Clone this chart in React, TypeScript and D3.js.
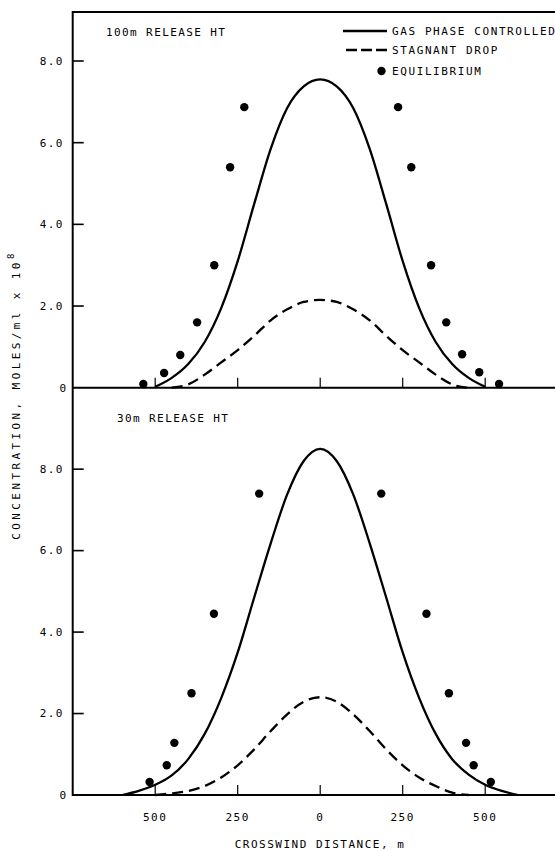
import React, { useRef, useEffect } from 'react';
import * as d3 from 'd3';

// crosswind distance (m) for the curve points
const distances = [-600, -550, -500, -450, -400, -350, -300, -250, -200, -150, -100, -50, 0,
  50, 100, 150, 200, 250, 300, 350, 400, 450, 500, 550, 600];

// 100m release height
const topGasPhase = [null, null, 0.02, 0.24, 0.58, 1.12, 1.95, 3.1, 4.5, 5.85, 6.85, 7.38, 7.55,
  7.38, 6.85, 5.85, 4.5, 3.1, 1.95, 1.12, 0.58, 0.24, 0.02, null, null];
const topStagnant = [null, null, null, 0, 0.08, 0.32, 0.62, 0.92, 1.27, 1.65, 1.92, 2.1, 2.15,
  2.1, 1.92, 1.65, 1.27, 0.92, 0.62, 0.32, 0.08, 0, null, null, null];
const topEquilX = [-536, -473, -424, -373, -321, -273, -230, 236, 276, 336, 382, 430, 482, 542];
const topEquilY = [0.09, 0.36, 0.8, 1.6, 3.0, 5.4, 6.87, 6.87, 5.4, 3.0, 1.6, 0.82, 0.38, 0.09];

// 30m release height
const botGasPhase = [0, 0.1, 0.25, 0.48, 0.88, 1.5, 2.38, 3.5, 4.85, 6.18, 7.38, 8.2, 8.5,
  8.2, 7.38, 6.18, 4.85, 3.5, 2.38, 1.5, 0.88, 0.5, 0.25, 0.1, 0];
const botStagnant = [null, null, 0, 0.04, 0.1, 0.22, 0.43, 0.73, 1.12, 1.57, 1.98, 2.29, 2.4,
  2.29, 1.98, 1.57, 1.12, 0.73, 0.43, 0.22, 0.06, 0, null, null, null];
const botEquilX = [-517, -465, -442, -390, -322, -185, 185, 322, 390, 442, 465, 517];
const botEquilY = [0.32, 0.73, 1.28, 2.5, 4.45, 7.4, 7.4, 4.45, 2.5, 1.28, 0.73, 0.32];

const xTicks = [-500, -250, 0, 250, 500];
const yTicks = [2, 4, 6, 8];
const yTickLabels = ['2.0', '4.0', '6.0', '8.0'];
const legendLabels = ['GAS PHASE CONTROLLED', 'STAGNANT DROP', 'EQUILIBRIUM'];

function ReleaseChart() {
  const svgRef = useRef<SVGSVGElement>(null);

  useEffect(() => {
    const svg = d3.select(svgRef.current);
    svg.selectAll('*').remove();

    const font = "'DejaVu Sans Mono', monospace";
    const left = 72.7, right = 567.7, top = 12, mid = 387.7, bottom = 795;

    const x = d3.scaleLinear().domain([-750, 750]).range([left, right]);
    const yTop = d3.scaleLinear().domain([0, 9.2]).range([mid, top]);
    const yBot = d3.scaleLinear().domain([0, 10]).range([bottom, mid]);

    const panels = [
      { y: yTop, solid: topGasPhase, dashed: topStagnant, ex: topEquilX, ey: topEquilY,
        title: '100m RELEASE HT', tx: 106, ty: 36 },
      { y: yBot, solid: botGasPhase, dashed: botStagnant, ex: botEquilX, ey: botEquilY,
        title: '30m RELEASE HT', tx: 117, ty: 422 },
    ];

    // frame
    const frame = svg.append('g').attr('stroke', '#000').attr('stroke-width', 2);
    frame.append('line').attr('x1', left).attr('x2', left).attr('y1', top - 1).attr('y2', bottom + 1);
    [top, mid, bottom].forEach(yy => {
      frame.append('line').attr('x1', left).attr('x2', 555).attr('y1', yy).attr('y2', yy);
    });

    panels.forEach(p => {
      const g = svg.append('g');

      // y ticks + labels
      yTicks.forEach((t, i) => {
        g.append('line')
          .attr('x1', left).attr('x2', left + 11)
          .attr('y1', p.y(t)).attr('y2', p.y(t))
          .attr('stroke', '#000').attr('stroke-width', 1.6);
        g.append('text')
          .attr('x', 64).attr('y', p.y(t)).attr('dy', '0.35em')
          .attr('text-anchor', 'end')
          .attr('font-family', font).attr('font-size', 11).attr('letter-spacing', 1.5)
          .text(yTickLabels[i]);
      });
      g.append('text')
        .attr('x', 66).attr('y', p.y(0)).attr('dy', '0.35em')
        .attr('text-anchor', 'end')
        .attr('font-family', font).attr('font-size', 11)
        .text('0');

      // x ticks on the zero line
      xTicks.forEach(t => {
        g.append('line')
          .attr('x1', x(t)).attr('x2', x(t))
          .attr('y1', p.y(0)).attr('y2', p.y(0) - 10)
          .attr('stroke', '#000').attr('stroke-width', 1.2);
      });

      // title
      g.append('text')
        .attr('x', p.tx).attr('y', p.ty)
        .attr('font-family', font).attr('font-size', 11).attr('letter-spacing', 1.4)
        .text(p.title);

      const line = d3.line<number | null>()
        .defined(d => d != null)
        .x((_, i) => x(distances[i]))
        .y(d => p.y(d as number))
        .curve(d3.curveMonotoneX);

      g.append('path')
        .attr('d', line(p.solid))
        .attr('fill', 'none').attr('stroke', '#000').attr('stroke-width', 2.3);

      g.append('path')
        .attr('d', line(p.dashed))
        .attr('fill', 'none').attr('stroke', '#000').attr('stroke-width', 2.3)
        .attr('stroke-dasharray', '11,6');

      g.selectAll('.dot')
        .data(p.ex)
        .enter()
        .append('circle')
        .attr('cx', d => x(d))
        .attr('cy', (_, i) => p.y(p.ey[i]))
        .attr('r', 4.2)
        .attr('fill', '#000');
    });

    // legend
    const legend = svg.append('g').attr('font-family', font).attr('font-size', 11).attr('letter-spacing', 1.6);
    legend.append('line').attr('x1', 343).attr('x2', 387).attr('y1', 31).attr('y2', 31)
      .attr('stroke', '#000').attr('stroke-width', 2.3);
    legend.append('line').attr('x1', 346).attr('x2', 387).attr('y1', 50).attr('y2', 50)
      .attr('stroke', '#000').attr('stroke-width', 2.3).attr('stroke-dasharray', '11,4');
    legend.append('circle').attr('cx', 381.5).attr('cy', 71).attr('r', 4.2).attr('fill', '#000');
    [31, 50, 71].forEach((yy, i) => {
      legend.append('text').attr('x', 392).attr('y', yy).attr('dy', '0.35em').text(legendLabels[i]);
    });

    // x tick labels
    xTicks.forEach(t => {
      svg.append('text')
        .attr('x', x(t)).attr('y', 821)
        .attr('text-anchor', 'middle')
        .attr('font-family', font).attr('font-size', 11).attr('letter-spacing', 1.5)
        .text(Math.abs(t));
    });

    // axis titles
    svg.append('text')
      .attr('x', 320).attr('y', 848)
      .attr('text-anchor', 'middle')
      .attr('font-family', font).attr('font-size', 11).attr('letter-spacing', 1.5)
      .text('CROSSWIND DISTANCE, m');

    const yLabel = svg.append('text')
      .attr('transform', 'translate(20,395) rotate(-90)')
      .attr('text-anchor', 'middle')
      .attr('font-family', font).attr('font-size', 11).attr('letter-spacing', 3.4);
    yLabel.append('tspan').text('CONCENTRATION, MOLES/ml x 10');
    yLabel.append('tspan').attr('dy', -6).attr('font-size', 9).text('8');
  }, []);

  return <svg ref={svgRef} width={555} height={851} style={{ position: 'absolute', left: 0, top: 0 }}></svg>;
}

export default function App() {
  return <ReleaseChart />;
}
